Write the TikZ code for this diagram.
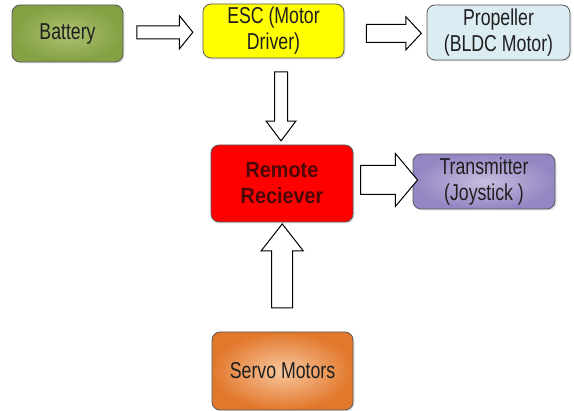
\documentclass[tikz,border=0pt]{standalone}
\usepackage{fontspec}
\setmainfont{Liberation Sans}[FakeStretch=0.77]
\newfontfamily\boldlabel{Liberation Sans}[FakeStretch=0.9]
\usetikzlibrary{shapes.arrows,shadows,calc}

\definecolor{batin}{HTML}{AEC272}
\definecolor{batout}{HTML}{83A042}
\definecolor{escfill}{HTML}{FFFF00}
\definecolor{propfill}{HTML}{DCECF3}
\definecolor{rxfill}{HTML}{FF0000}
\definecolor{rxtext}{HTML}{4A0808}
\definecolor{txin}{HTML}{C8BDE0}
\definecolor{txout}{HTML}{9486C2}
\definecolor{svin}{HTML}{F8C79E}
\definecolor{svout}{HTML}{E2782C}

\begin{document}
\begin{tikzpicture}[x=1pt,y=-1pt,
  box/.style={draw=black!65, line width=0.8pt, rounded corners=8pt,
    drop shadow={opacity=0.22, shadow xshift=1.5pt, shadow yshift=-1.5pt},
    align=center, inner sep=0pt, text=black!88,
    font=\fontsize{23}{26}\selectfont},
  barrow/.style={draw=black, line width=1pt, fill=white, single arrow,
    inner xsep=0pt, single arrow head indent=0pt, minimum width=1pt}]

\useasboundingbox (0,0) rectangle (574,411);

% blocks
\node[box, minimum width=111pt, minimum height=57pt,
  shading=radial, inner color=batin, outer color=batout] (bat) at (67.5,33.5) {Battery};
\node[box, minimum width=141pt, minimum height=54pt, fill=escfill] (esc) at (273.5,31) {ESC (Motor\\Driver)};
\node[box, minimum width=143pt, minimum height=55pt, fill=propfill] (prop) at (498.5,32.5) {Propeller\\(BLDC Motor)};
\node[box, minimum width=142pt, minimum height=77pt, fill=rxfill, text=rxtext,
  font=\boldlabel\bfseries\fontsize{22}{26}\selectfont] (rx) at (282,183.5) {Remote\\Reciever};
\node[box, minimum width=142pt, minimum height=55pt,
  shading=radial, inner color=txin, outer color=txout] (tx) at (484,181.5) {Transmitter\\(Joystick )};
\node[box, minimum width=141pt, minimum height=78pt,
  shading=radial, inner color=svin, outer color=svout] (servo) at (282.5,371) {Servo Motors};

% block arrows between the blocks
\node[barrow, minimum height=56pt, inner ysep=6pt, single arrow head extend=10pt,
  single arrow tip angle=102] (a1) at ($(bat.east)!0.49!(esc.west)$) {};
\node[barrow, minimum height=55pt, inner ysep=8.5pt, single arrow head extend=7.5pt,
  single arrow tip angle=94] (a2) at ($(esc.east)!0.55!(prop.west)+(0,1.5)$) {};
\node[barrow, minimum height=69pt, inner ysep=6pt, single arrow head extend=8.5pt,
  single arrow tip angle=74, rotate=-90] (a3) at ($(rx.north)+(-1,-42.5)$) {};
\node[barrow, minimum height=57pt, inner ysep=14pt, single arrow head extend=12pt,
  single arrow tip angle=100] (a4) at ($(rx.east)!0.5!(tx.west)+(0,-2.5)$) {};
\node[barrow, minimum height=84pt, inner ysep=10pt, single arrow head extend=10.5pt,
  single arrow tip angle=76, rotate=90] (a5) at ($(rx.south)!0.46!(servo.north)$) {};
\end{tikzpicture}
\end{document}
